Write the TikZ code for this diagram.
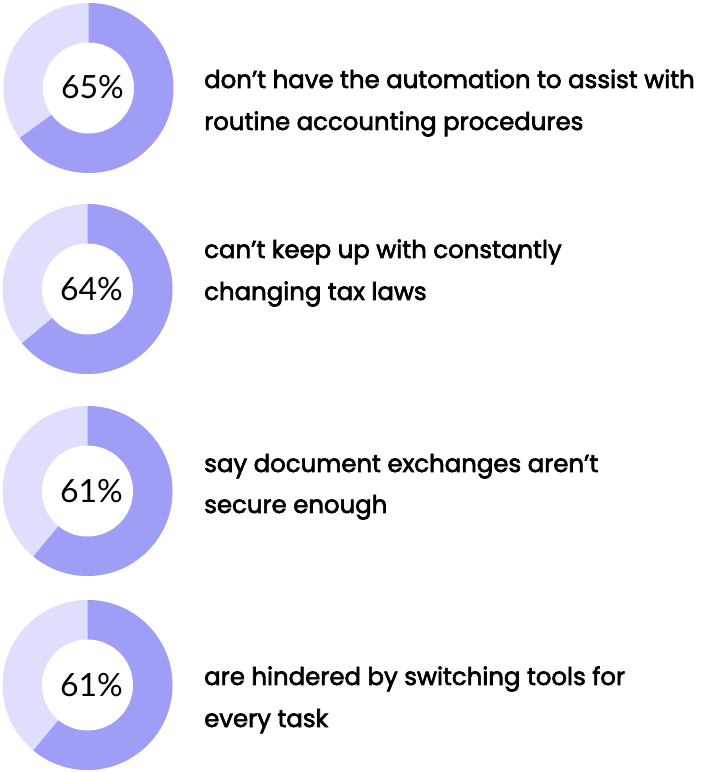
\documentclass[tikz,border=0pt]{standalone}
\usepackage{fontspec}
\setmainfont{Lato}
\newfontfamily\bodyfnt{Poppins}[FakeBold=2.6]
\definecolor{darkpie}{HTML}{A09DF7}
\definecolor{lightpie}{HTML}{DFDEFC}
\tikzset{
  lbl/.style={anchor=base west, inner sep=0pt, font=\bodyfnt\fontsize{24.4}{28}\selectfont, text=black},
  pct/.style={anchor=base, inner sep=0pt, font=\fontsize{32}{36}\selectfont, text=black},
}
\newcommand{\donut}[4]{% name, x, y, fraction
  \coordinate (#1) at (#2,#3);
  \fill[lightpie] (#1) circle[radius=85];
  \fill[darkpie] (#1) -- ++(90:85) arc[start angle=90, end angle={90-360*#4}, radius=85] -- cycle;
  \fill[white] (#1) circle[radius=45.5];
}
\begin{document}
\begin{tikzpicture}[x=1pt,y=1pt]
\useasboundingbox (0,0) rectangle (702,772);
\donut{d1}{88.5}{684}{0.65}
\donut{d2}{87.5}{483}{0.64}
\donut{d3}{87.5}{281}{0.61}
\donut{d4}{87.5}{87}{0.61}
\node[pct] (p1) at (92.5,673) {65\%};
\node[pct] (p2) at (91.5,471) {64\%};
\node[pct] (p3) at (91.5,269.5) {61\%};
\node[pct] (p4) at (91.5,75.5) {61\%};
\node[lbl] (t1a) at (204,684) {don’t have the automation to assist with};
\node[lbl] (t1b) at (204,642) {routine accounting procedures};
\node[lbl] (t2a) at (204,514) {can’t keep up with constantly};
\node[lbl] (t2b) at (204,472) {changing tax laws};
\node[lbl] (t3a) at (204,300) {say document exchanges aren’t};
\node[lbl] (t3b) at (204,259) {secure enough};
\node[lbl] (t4a) at (204,87) {are hindered by switching tools for};
\node[lbl] (t4b) at (204,45) {every task};
\end{tikzpicture}
\end{document}
